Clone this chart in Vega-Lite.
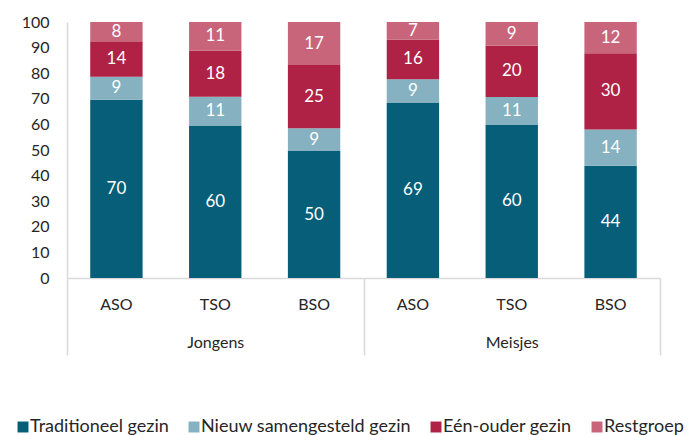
{
  "$schema": "https://vega.github.io/schema/vega-lite/v6.json",
  "width": 593,
  "height": 256,
  "autosize": "none",
  "padding": {"left": 67, "top": 22, "right": 37, "bottom": 157},
  "config": {
    "font": "Lato",
    "view": {"stroke": null},
    "axis": {"labelFont": "Lato", "labelColor": "#262626", "labelFontSize": 16, "grid": false},
    "axisY": {"labelOverlap": false, "tickCount": 20, "labelPadding": 18, "ticks": false, "domainColor": "#d9d9d9", "domainWidth": 1.5, "title": null}
  },
  "data": {
    "values": [
      {"gender": "Jongens", "school": "ASO", "key": "Jongens|ASO", "cat": "Traditioneel gezin", "o": 1, "value": 69.6},
      {"gender": "Jongens", "school": "ASO", "key": "Jongens|ASO", "cat": "Nieuw samengesteld gezin", "o": 2, "value": 9.0},
      {"gender": "Jongens", "school": "ASO", "key": "Jongens|ASO", "cat": "Eén-ouder gezin", "o": 3, "value": 13.6},
      {"gender": "Jongens", "school": "ASO", "key": "Jongens|ASO", "cat": "Restgroep", "o": 4, "value": 7.8},
      {"gender": "Jongens", "school": "TSO", "key": "Jongens|TSO", "cat": "Traditioneel gezin", "o": 1, "value": 59.6},
      {"gender": "Jongens", "school": "TSO", "key": "Jongens|TSO", "cat": "Nieuw samengesteld gezin", "o": 2, "value": 11.2},
      {"gender": "Jongens", "school": "TSO", "key": "Jongens|TSO", "cat": "Eén-ouder gezin", "o": 3, "value": 18.0},
      {"gender": "Jongens", "school": "TSO", "key": "Jongens|TSO", "cat": "Restgroep", "o": 4, "value": 11.2},
      {"gender": "Jongens", "school": "BSO", "key": "Jongens|BSO", "cat": "Traditioneel gezin", "o": 1, "value": 49.6},
      {"gender": "Jongens", "school": "BSO", "key": "Jongens|BSO", "cat": "Nieuw samengesteld gezin", "o": 2, "value": 8.9},
      {"gender": "Jongens", "school": "BSO", "key": "Jongens|BSO", "cat": "Eén-ouder gezin", "o": 3, "value": 24.7},
      {"gender": "Jongens", "school": "BSO", "key": "Jongens|BSO", "cat": "Restgroep", "o": 4, "value": 16.8},
      {"gender": "Meisjes", "school": "ASO", "key": "Meisjes|ASO", "cat": "Traditioneel gezin", "o": 1, "value": 68.6},
      {"gender": "Meisjes", "school": "ASO", "key": "Meisjes|ASO", "cat": "Nieuw samengesteld gezin", "o": 2, "value": 9.0},
      {"gender": "Meisjes", "school": "ASO", "key": "Meisjes|ASO", "cat": "Eén-ouder gezin", "o": 3, "value": 15.6},
      {"gender": "Meisjes", "school": "ASO", "key": "Meisjes|ASO", "cat": "Restgroep", "o": 4, "value": 6.8},
      {"gender": "Meisjes", "school": "TSO", "key": "Meisjes|TSO", "cat": "Traditioneel gezin", "o": 1, "value": 59.8},
      {"gender": "Meisjes", "school": "TSO", "key": "Meisjes|TSO", "cat": "Nieuw samengesteld gezin", "o": 2, "value": 10.9},
      {"gender": "Meisjes", "school": "TSO", "key": "Meisjes|TSO", "cat": "Eén-ouder gezin", "o": 3, "value": 20.0},
      {"gender": "Meisjes", "school": "TSO", "key": "Meisjes|TSO", "cat": "Restgroep", "o": 4, "value": 9.3},
      {"gender": "Meisjes", "school": "BSO", "key": "Meisjes|BSO", "cat": "Traditioneel gezin", "o": 1, "value": 43.8},
      {"gender": "Meisjes", "school": "BSO", "key": "Meisjes|BSO", "cat": "Nieuw samengesteld gezin", "o": 2, "value": 14.2},
      {"gender": "Meisjes", "school": "BSO", "key": "Meisjes|BSO", "cat": "Eén-ouder gezin", "o": 3, "value": 29.8},
      {"gender": "Meisjes", "school": "BSO", "key": "Meisjes|BSO", "cat": "Restgroep", "o": 4, "value": 12.2}
    ]
  },
  "transform": [
    {"stack": "value", "groupby": ["key"], "sort": [{"field": "o", "order": "ascending"}], "as": ["y0", "y1"]},
    {"calculate": "(datum.y0 + datum.y1) / 2", "as": "ymid"}
  ],
  "layer": [
    {
      "layer": [
        {
          "mark": {"type": "bar"},
          "encoding": {
            "x": {
              "field": "key", "type": "nominal",
              "sort": ["Jongens|ASO", "Jongens|TSO", "Jongens|BSO", "Meisjes|ASO", "Meisjes|TSO", "Meisjes|BSO"],
              "scale": {"paddingInner": 0.47, "paddingOuter": 0.235},
              "axis": {
                "title": null, "orient": "bottom", "ticks": false, "labelAngle": 0,
                "labelPadding": 18, "labelExpr": "split(datum.label, '|')[1]",
                "domain": true, "domainColor": "#d9d9d9", "domainWidth": 1.5
              }
            },
            "y": {
              "field": "y0", "type": "quantitative",
              "scale": {"domain": [0, 100], "nice": false},
              "axis": {"values": [0, 10, 20, 30, 40, 50, 60, 70, 80, 90, 100], "tickCount": 20}
            },
            "y2": {"field": "y1"},
            "color": {
              "field": "cat", "type": "nominal",
              "scale": {
                "domain": ["Traditioneel gezin", "Nieuw samengesteld gezin", "Eén-ouder gezin", "Restgroep"],
                "range": ["#065e79", "#85b1c0", "#af2245", "#c8657b"]
              },
              "legend": {
                "title": null, "orient": "none", "direction": "horizontal",
                "legendX": -53, "legendY": 396,
                "symbolType": "square", "symbolSize": 120, "symbolStrokeWidth": 0,
                "labelFontSize": 18, "labelFont": "Lato", "labelColor": "#262626", "labelLimit": 0,
                "columnPadding": 16, "labelOffset": -2
              }
            }
          }
        },
        {
          "mark": {"type": "text", "color": "white", "fontSize": 17, "font": "Lato"},
          "encoding": {
            "x": {
              "field": "key", "type": "nominal",
              "sort": ["Jongens|ASO", "Jongens|TSO", "Jongens|BSO", "Meisjes|ASO", "Meisjes|TSO", "Meisjes|BSO"]
            },
            "y": {"field": "ymid", "type": "quantitative", "axis": {"values": [0, 10, 20, 30, 40, 50, 60, 70, 80, 90, 100], "tickCount": 20}},
            "text": {"field": "value", "type": "quantitative", "format": ".0f"}
          }
        }
      ]
    },
    {
      "mark": {"type": "point", "opacity": 0},
      "encoding": {
        "x": {
          "field": "gender", "type": "nominal",
          "sort": ["Jongens", "Meisjes"],
          "scale": {"paddingInner": 0, "paddingOuter": 0},
          "axis": {
            "title": null, "orient": "bottom", "labelAngle": 0, "domain": false,
            "tickBand": "extent", "ticks": true, "tickSize": 77, "tickColor": "#d9d9d9", "tickWidth": 1.5,
            "labelPadding": -21
          }
        }
      }
    }
  ],
  "resolve": {"scale": {"x": "independent"}}
}
